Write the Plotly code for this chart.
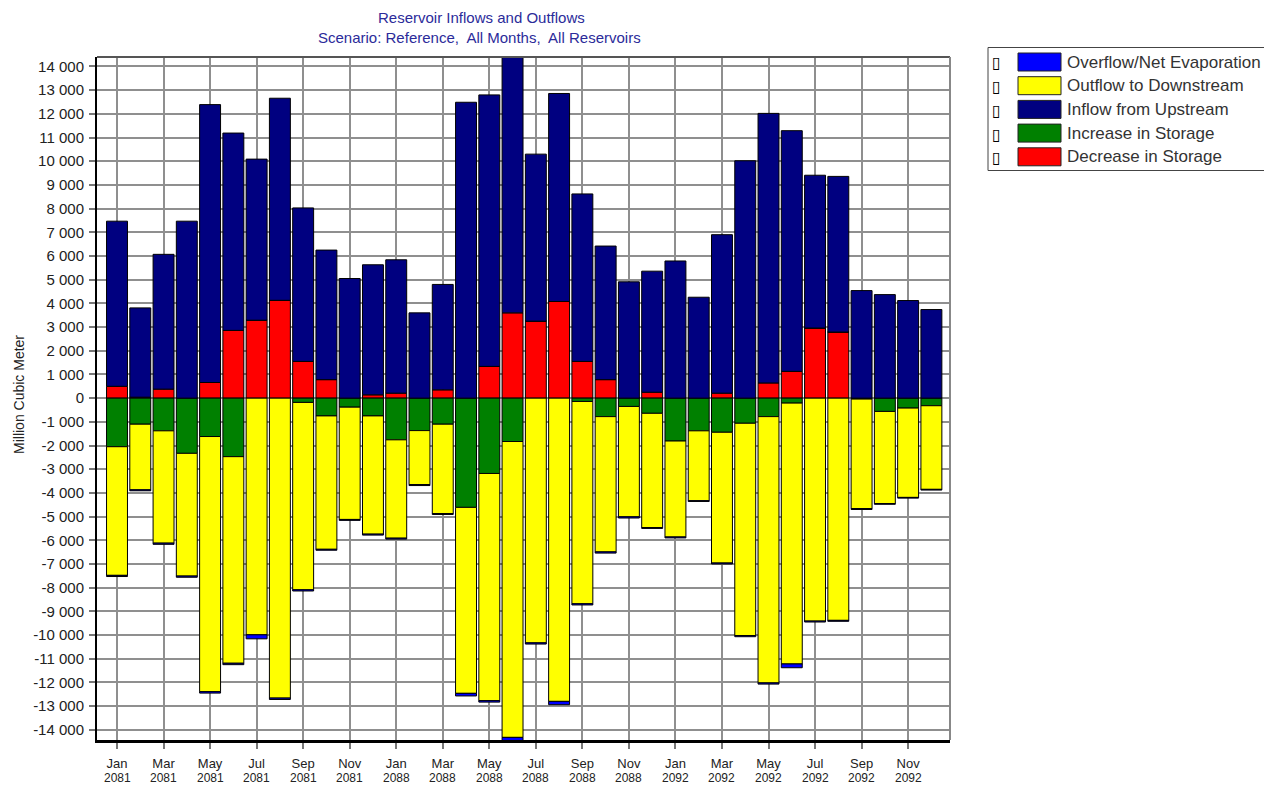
import plotly.graph_objects as go

months = ["Jan", "Feb", "Mar", "Apr", "May", "Jun", "Jul", "Aug", "Sep", "Oct", "Nov", "Dec"]
years = ["2081", "2088", "2092"]
categories = [f"{m} {y}" for y in years for m in months]

decrease_storage = [500, 40, 380, 0, 660, 2860, 3290, 4130, 1550, 780, 0, 140,
                    210, 0, 350, 0, 1340, 3600, 3250, 4080, 1550, 780, 0, 250,
                    0, 0, 210, 0, 640, 1130, 2960, 2790, 0, 0, 0, 0]
inflow_upstream = [6970, 3770, 5690, 7470, 11730, 8330, 6800, 8530, 6480, 5470, 5050, 5490,
                   5630, 3600, 4450, 12490, 11460, 10850, 7050, 8780, 7070, 5640, 4910, 5110,
                   5790, 4260, 6690, 10020, 11380, 10160, 6450, 6570, 4540, 4370, 4120, 3740]
increase_storage = [-2050, -1100, -1380, -2330, -1620, -2470, 0, 0, -180, -750, -380, -750,
                    -1760, -1370, -1100, -4610, -3180, -1830, 0, 0, -140, -780, -350, -640,
                    -1810, -1380, -1440, -1060, -780, -210, 0, 0, -40, -560, -420, -320]
outflow_downstream = [-5430, -2770, -4740, -5180, -10770, -8720, -9990, -12660, -7910, -5630, -4740, -4990,
                      -4150, -2280, -3770, -7850, -9590, -12490, -10330, -12800, -8540, -5710, -4660, -4820,
                      -4050, -2950, -5520, -8960, -11240, -11010, -9410, -9380, -4620, -3890, -3770, -3530]
overflow_evap = [-50, -40, -50, -50, -60, -60, -170, -60, -50, -40, -40, -40,
                 -40, -40, -40, -110, -60, -150, -50, -140, -50, -50, -50, -40,
                 -40, -30, -40, -50, -50, -160, -40, -40, -40, -30, -30, -30]

series_names = ["Decrease in Storage", "Increase in Storage", "Inflow from Upstream",
                "Outflow to Downstream", "Overflow/Net Evaporation"]
series_values = [decrease_storage, increase_storage, inflow_upstream,
                 outflow_downstream, overflow_evap]
series_colors = ["#FF0000", "#008000", "#000080", "#FFFF00", "#0000FF"]

legend_order = ["Overflow/Net Evaporation", "Outflow to Downstream", "Inflow from Upstream",
                "Increase in Storage", "Decrease in Storage"]

y_ticks = list(range(-14000, 15000, 1000))
y_ticktext = [f"{v:,}".replace(",", " ") for v in y_ticks]
x_tickvals = categories[::2]
x_month_text = [c.split(" ")[0] for c in x_tickvals]
x_year_text = [c.split(" ")[1] for c in x_tickvals]

W, H = 1264, 789
L, R, T, B = 97, 950, 57, 740
PW, PH = R - L, B - T


def px(x):
    return (x - L) / PW


def py(y):
    return (B - y) / PH


fig = go.Figure()
for name, vals, col in zip(series_names, series_values, series_colors):
    fig.add_trace(go.Bar(x=categories, y=vals, name=name, marker_color=col,
                         marker_line_color="black", marker_line_width=1,
                         showlegend=False))

FONT = "Liberation Sans, Arial, sans-serif"
fig.update_layout(
    width=W, height=H,
    margin=dict(l=L, r=W - R, t=T, b=H - B, pad=0),
    barmode="relative", bargap=0.1,
    plot_bgcolor="white", paper_bgcolor="white",
    font=dict(family=FONT, size=13, color="#222222"),
    xaxis=dict(type="category", range=[-0.86, 35.8], tickmode="array",
               tickvals=x_tickvals, ticktext=x_month_text,
               showgrid=True, gridcolor="#8f8f8f", gridwidth=2,
               ticks="outside", ticklen=6, tickcolor="#777", tickwidth=2,
               ticklabelstandoff=3,
               showline=True, linecolor="black", linewidth=3,
               tickfont=dict(size=13, family=FONT, color="#222222")),
    yaxis=dict(range=[-14430, 14400], tickmode="array", tickvals=y_ticks,
               ticktext=y_ticktext, showgrid=True, gridcolor="#8f8f8f", gridwidth=2,
               zeroline=False, ticks="outside", ticklen=6, tickcolor="#777", tickwidth=2,
               ticklabelstandoff=2,
               showline=True, linecolor="black", linewidth=2,
               tickfont=dict(size=15, family=FONT, color="#222222")),
)

shapes = [
    dict(type="line", xref="paper", yref="paper", x0=0, x1=1, y0=1, y1=1,
         line=dict(color="#555555", width=2)),
    dict(type="line", xref="paper", yref="paper", x0=1, x1=1, y0=0, y1=1,
         line=dict(color="#888888", width=2)),
    dict(type="rect", xref="paper", yref="paper", x0=px(988), x1=px(1266),
         y0=py(170.5), y1=py(47.5), line=dict(color="#444444", width=1),
         fillcolor="white", layer="below"),
]
annotations = [
    dict(text="Reservoir Inflows and Outflows", xref="paper", yref="paper",
         x=px(481), y=py(18), showarrow=False, xanchor="center", yanchor="middle",
         font=dict(size=15, color="#2b2b9a", family=FONT)),
    dict(text="Scenario: Reference,  All Months,  All Reservoirs", xref="paper", yref="paper",
         x=px(479), y=py(37), showarrow=False, xanchor="center", yanchor="middle",
         font=dict(size=15, color="#2b2b9a", family=FONT)),
    dict(text="Million Cubic Meter", xref="paper", yref="paper", x=px(19), y=py(395),
         showarrow=False, textangle=-90, xanchor="center", yanchor="middle",
         font=dict(size=14, color="#222222", family=FONT)),
]
for cat, yr in zip(x_tickvals, x_year_text):
    annotations.append(dict(text=yr, xref="x", yref="paper", x=cat, y=py(778),
                            showarrow=False, xanchor="center", yanchor="middle",
                            font=dict(size=12, color="#222222", family=FONT)))
color_of = dict(zip(series_names, series_colors))
for i, name in enumerate(legend_order):
    yc = 62 + i * 23.7
    shapes.append(dict(type="rect", xref="paper", yref="paper",
                       x0=px(1018), x1=px(1061), y0=py(yc + 9), y1=py(yc - 9),
                       fillcolor=color_of[name], line=dict(color="#222222", width=1)))
    annotations.append(dict(text=name, xref="paper", yref="paper", x=px(1065), y=py(yc),
                            showarrow=False, xanchor="left", yanchor="middle",
                            font=dict(size=17, color="#333333", family=FONT)))
    annotations.append(dict(text="\u25af", xref="paper", yref="paper", x=px(997), y=py(yc + 1),
                            showarrow=False, xanchor="center", yanchor="middle",
                            font=dict(size=16, color="black", family="DejaVu Sans")))

fig.update_layout(shapes=shapes, annotations=annotations)
fig.write_html("out.html")
